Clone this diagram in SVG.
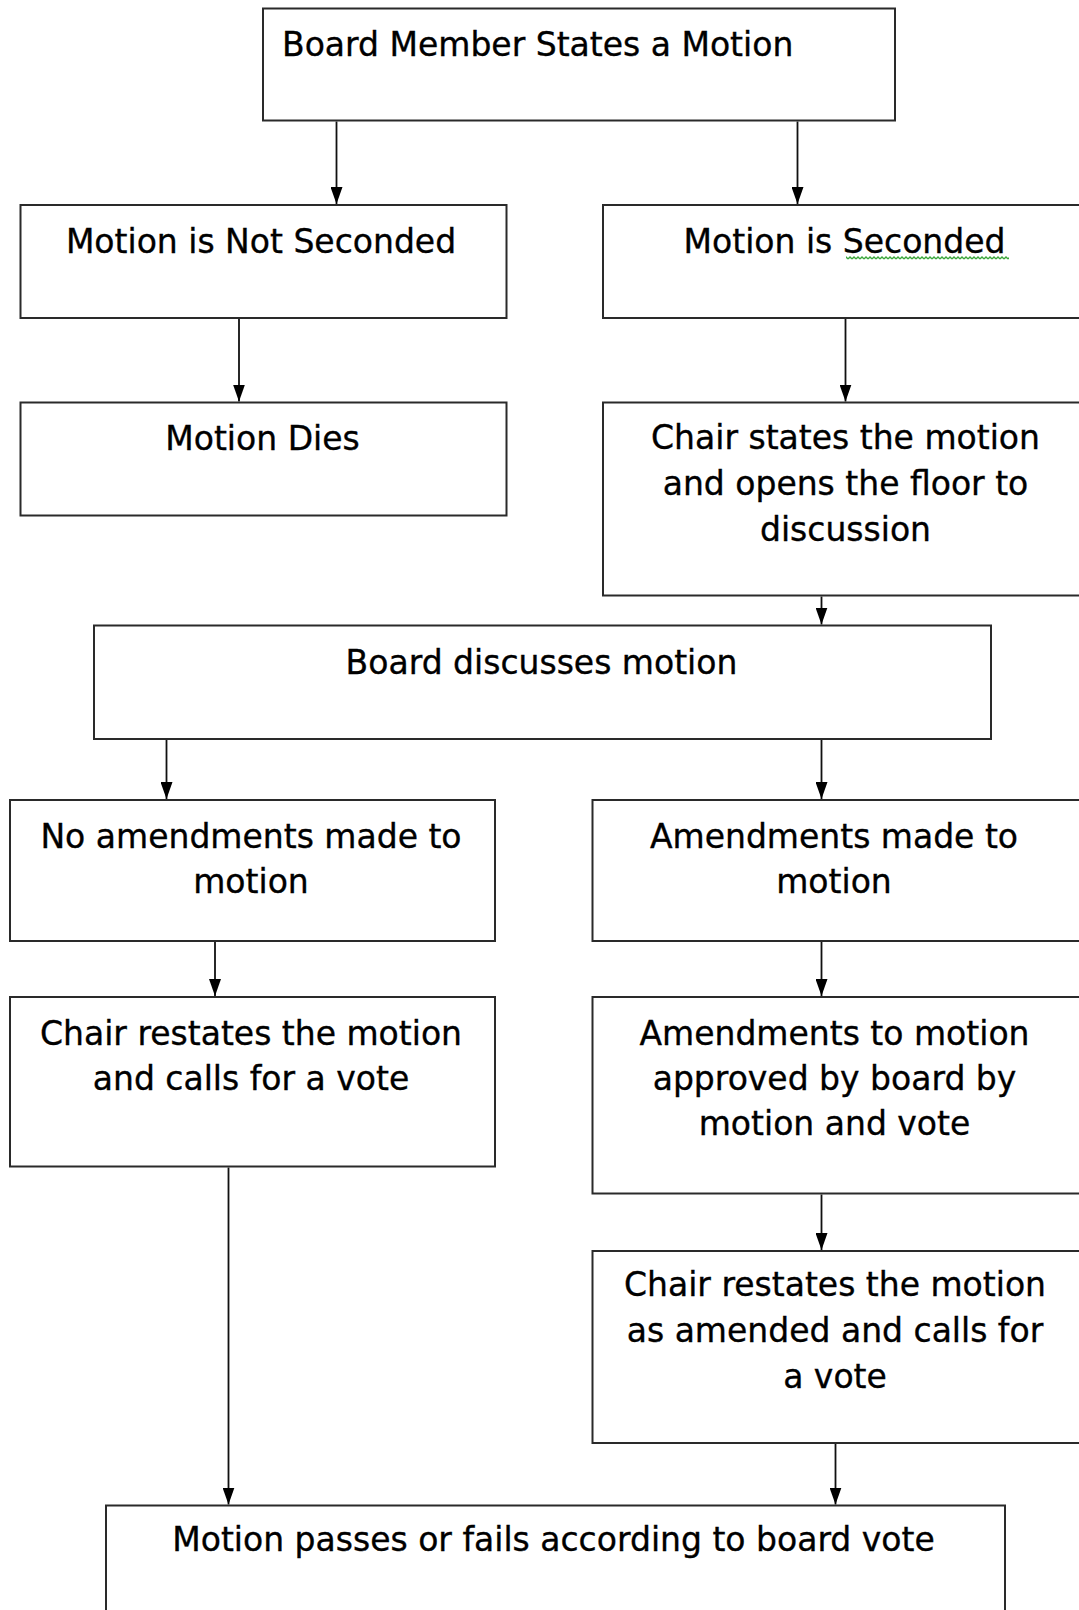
<svg xmlns="http://www.w3.org/2000/svg" width="1079" height="1610" viewBox="0 0 1079 1610">
  <style>
    .box { fill: #ffffff; stroke: #2a2a2a; stroke-width: 2; }
    .lbl { font-family: "DejaVu Sans", Verdana, sans-serif; font-size: 33px; fill: #000; stroke: #000; stroke-width: 0.35; text-anchor: middle; }
    .conn { stroke: #111; stroke-width: 1.8; fill: none; marker-end: url(#arrow); }
  </style>
  <defs>
    <marker id="arrow" viewBox="0 0 17 12" refX="17" refY="6" markerWidth="17" markerHeight="12" markerUnits="userSpaceOnUse" orient="auto">
      <path d="M0,0 L17,6 L0,12 z" fill="#000"/>
    </marker>
    <pattern id="squig" x="0" y="0" width="4" height="4" patternUnits="userSpaceOnUse">
      <path d="M0,3 L2,1 L4,3" stroke="#3aa63a" stroke-width="1.3" fill="none"/>
    </pattern>
  </defs>
  <rect x="0" y="0" width="1079" height="1610" fill="#ffffff"/>

  <g id="connectors">
    <line class="conn" x1="336.5" y1="121.5" x2="336.5" y2="204"/>
    <line class="conn" x1="797.5" y1="121.5" x2="797.5" y2="204"/>
    <line class="conn" x1="239" y1="319" x2="239" y2="401.5"/>
    <line class="conn" x1="845.5" y1="319" x2="845.5" y2="401.5"/>
    <line class="conn" x1="821.5" y1="596.5" x2="821.5" y2="624.5"/>
    <line class="conn" x1="166.5" y1="740" x2="166.5" y2="799"/>
    <line class="conn" x1="821.5" y1="740" x2="821.5" y2="799"/>
    <line class="conn" x1="215" y1="942" x2="215" y2="996"/>
    <line class="conn" x1="821.5" y1="942" x2="821.5" y2="996"/>
    <line class="conn" x1="228.5" y1="1167.5" x2="228.5" y2="1504.5"/>
    <line class="conn" x1="821.5" y1="1194.5" x2="821.5" y2="1250"/>
    <line class="conn" x1="835.5" y1="1444" x2="835.5" y2="1504.5"/>
  </g>

  <g id="n-board-member-states">
    <rect class="box" x="263" y="8.5" width="632" height="112"/>
    <text class="lbl" x="282" y="56" style="text-anchor:start">Board Member States a Motion</text>
  </g>

  <g id="n-not-seconded">
    <rect class="box" x="20.5" y="205" width="486" height="113"/>
    <text class="lbl" x="261" y="253">Motion is Not Seconded</text>
  </g>

  <g id="n-seconded">
    <rect class="box" x="603" y="205" width="490" height="113"/>
    <text class="lbl" x="844.5" y="253">Motion is Seconded</text>
    <rect x="846" y="256" width="163" height="4" fill="url(#squig)"/>
  </g>

  <g id="n-motion-dies">
    <rect class="box" x="20.5" y="402.5" width="486" height="113"/>
    <text class="lbl" x="262.5" y="450">Motion Dies</text>
  </g>

  <g id="n-chair-states">
    <rect class="box" x="603" y="402.5" width="490" height="193"/>
    <text class="lbl" x="845.5" y="449">Chair states the motion</text>
    <text class="lbl" x="845.5" y="495">and opens the floor to</text>
    <text class="lbl" x="845.5" y="541">discussion</text>
  </g>

  <g id="n-board-discusses">
    <rect class="box" x="94" y="625.5" width="897" height="113.5"/>
    <text class="lbl" x="541.5" y="674">Board discusses motion</text>
  </g>

  <g id="n-no-amendments">
    <rect class="box" x="10" y="800" width="485" height="141"/>
    <text class="lbl" x="251" y="848">No amendments made to</text>
    <text class="lbl" x="251" y="893">motion</text>
  </g>

  <g id="n-amendments-made">
    <rect class="box" x="592.5" y="800" width="500" height="141"/>
    <text class="lbl" x="834" y="848">Amendments made to</text>
    <text class="lbl" x="834" y="893">motion</text>
  </g>

  <g id="n-chair-restates">
    <rect class="box" x="10" y="997" width="485" height="169.5"/>
    <text class="lbl" x="251" y="1045">Chair restates the motion</text>
    <text class="lbl" x="251" y="1090">and calls for a vote</text>
  </g>

  <g id="n-amendments-approved">
    <rect class="box" x="592.5" y="997" width="500" height="196.5"/>
    <text class="lbl" x="834.5" y="1045">Amendments to motion</text>
    <text class="lbl" x="834.5" y="1090">approved by board by</text>
    <text class="lbl" x="834.5" y="1135">motion and vote</text>
  </g>

  <g id="n-chair-restates-amended">
    <rect class="box" x="592.5" y="1251" width="500" height="192"/>
    <text class="lbl" x="835" y="1296">Chair restates the motion</text>
    <text class="lbl" x="835" y="1342">as amended and calls for</text>
    <text class="lbl" x="835" y="1388">a vote</text>
  </g>

  <g id="n-motion-passes">
    <rect class="box" x="106" y="1505.5" width="899" height="120"/>
    <text class="lbl" x="553.5" y="1551">Motion passes or fails according to board vote</text>
  </g>
</svg>
